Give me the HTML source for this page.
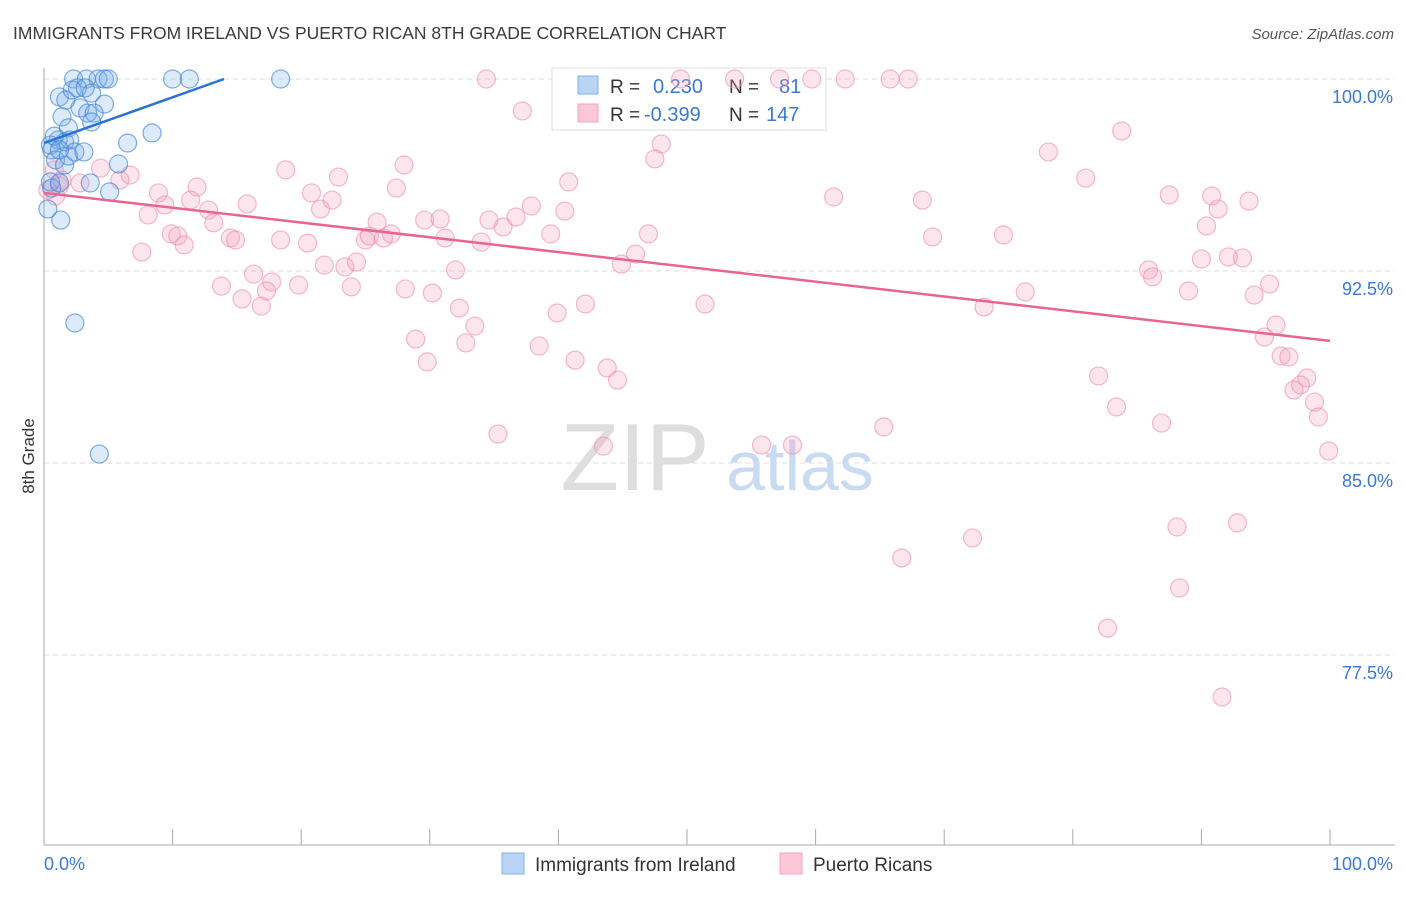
<!DOCTYPE html>
<html><head><meta charset="utf-8"><style>
body{margin:0;background:#fff;font-family:"Liberation Sans",sans-serif;}
svg text{font-family:"Liberation Sans",sans-serif;}
</style></head><body>
<svg id="chart" width="1406" height="892" viewBox="0 0 1406 892" xmlns="http://www.w3.org/2000/svg">
<text x="13" y="39" font-size="17.5" fill="#3a3a3a">IMMIGRANTS FROM IRELAND VS PUERTO RICAN 8TH GRADE CORRELATION CHART</text>
<text x="1394" y="39" font-size="15" fill="#555" font-style="italic" text-anchor="end">Source: ZipAtlas.com</text>
<text transform="translate(34,456) rotate(-90)" font-size="17" fill="#333" text-anchor="middle">8th Grade</text>
<g>
<text x="635" y="490" font-size="96" fill="#d4d4d4" font-family="Liberation Serif" text-anchor="middle" opacity="0.75">ZIP</text>
<text x="800" y="490" font-size="70" fill="#b8cfee" text-anchor="middle" opacity="0.75">atlas</text>
</g>
<g id="grid"></g>
<g id="axes"></g>
<g>
<rect x="552" y="68" width="274" height="62" fill="#fff" stroke="#ddd"/>
<rect x="578" y="76" width="20" height="18" fill="#b9d4f5" stroke="#7fb0ea"/>
<rect x="578" y="104" width="20" height="18" fill="#fbc6d6" stroke="#f3a5bf"/>
<text x="610" y="93" font-size="19" fill="#333">R =</text>
<text x="653" y="93" font-size="20" fill="#3a78d4">0.230</text>
<text x="729" y="93" font-size="19" fill="#333">N =</text>
<text x="779" y="93" font-size="20" fill="#3a78d4">81</text>
<text x="610" y="121" font-size="19" fill="#333">R =</text>
<text x="644" y="121" font-size="20" fill="#3a78d4">-0.399</text>
<text x="729" y="121" font-size="19" fill="#333">N =</text>
<text x="766" y="121" font-size="20" fill="#3a78d4">147</text>
</g>
<g id="pink"></g>
<g id="blue"></g>
<g id="lines"></g>
<g>
<rect x="502" y="853" width="22" height="21" fill="#b9d4f5" stroke="#7fb0ea"/>
<text x="535" y="871" font-size="19" fill="#333">Immigrants from Ireland</text>
<rect x="780" y="853" width="22" height="21" fill="#fbc6d6" stroke="#f3a5bf"/>
<text x="813" y="871" font-size="19" fill="#333">Puerto Ricans</text>
</g>
</svg>
<script>
const yTicks=[100,92.5,85,77.5];
const yTickLabels=["100.0%","92.5%","85.0%","77.5%"];
const xTickCount=10;
const blueX=[2.3,3.3,4.2,4.7,5.0,10.0,11.3,18.4,1.2,1.7,2.2,2.6,3.2,3.7,4.7,2.8,3.4,3.9,1.4,1.9,3.7,1.1,0.5,1.6,2.0,0.6,0.9,1.6,2.4,3.1,1.9,8.4,6.5,5.8,0.5,0.6,1.2,3.6,5.1,0.3,1.3,2.4,4.3,0.8,1.2];
const blueY=[100,100,100,100,100,100,100,100,99.3,99.18,99.57,99.65,99.65,99.45,99.02,98.87,98.67,98.67,98.52,98.09,98.32,97.62,97.42,97.54,97.62,97.23,96.84,96.64,97.15,97.15,96.99,97.89,97.5,96.68,95.98,95.74,95.94,95.94,95.59,94.92,94.49,90.47,85.35,97.77,97.23];
const pinkX=[34.4,37.2,49.5,53.7,57.2,59.7,62.3,65.8,67.2,83.8,78.1,48.0,47.5,28.0,18.8,22.9,27.4,20.8,22.4,11.9,8.9,6.7,4.4,5.9,0.8,1.4,2.8,1.2,9.4,8.1,11.4,12.8,13.2,15.8,21.5,25.9,29.6,30.8,34.6,35.7,36.7,37.9,40.5,40.8,9.9,10.4,10.9,14.5,14.9,18.4,20.5,25.0,25.3,26.4,27.0,31.2,34.0,39.4,47.0,46.0,44.9,7.6,16.3,17.7,19.8,23.9,21.8,23.4,24.3,32.0,13.8,15.4,16.9,17.3,28.1,30.2,32.3,33.5,39.9,42.1,51.4,61.4,68.3,69.1,74.6,81.0,87.5,90.8,91.3,93.7,90.4,85.9,86.2,90.0,92.1,93.2,89.0,76.3,73.1,94.1,95.3,95.8,94.9,96.2,96.8,98.2,97.7,97.2,98.8,99.1,99.9,28.9,29.8,32.8,38.5,41.3,43.8,44.6,82.0,83.4,86.9,65.3,55.8,58.2,43.5,35.3,66.7,72.2,88.1,92.8,88.3,82.7,91.6,0.9,0.3];
const pinkY=[100,98.75,100,100,100,100,100,100,100,97.97,97.15,97.46,96.88,96.64,96.45,96.17,95.74,95.55,95.27,95.78,95.55,96.25,96.52,96.05,96.45,96.05,95.94,95.82,95.08,94.69,95.27,94.88,94.38,95.12,94.92,94.41,94.49,94.53,94.49,94.22,94.61,95.04,94.84,95.98,93.95,93.87,93.52,93.79,93.71,93.71,93.59,93.71,93.87,93.79,93.95,93.79,93.63,93.95,93.95,93.16,92.77,93.24,92.38,92.07,91.95,91.88,92.73,92.66,92.85,92.54,91.91,91.41,91.13,91.72,91.8,91.64,91.05,90.35,90.86,91.21,91.21,95.39,95.27,93.83,93.91,96.13,95.47,95.43,94.92,95.23,94.26,92.54,92.27,92.97,93.05,93.01,91.72,91.68,91.09,91.56,91.99,90.39,89.92,89.18,89.14,88.32,88.05,87.85,87.38,86.8,85.47,89.84,88.95,89.69,89.57,89.02,88.71,88.24,88.4,87.19,86.56,86.41,85.7,85.7,85.66,86.13,81.29,82.07,82.5,82.66,80.12,78.55,75.86,95.43,95.66];
const blueTrend=[0,97.5,14,100];
const pinkTrend=[0,95.55,100,89.77];

const NS="http://www.w3.org/2000/svg";
const X0=44,X1=1330,Y100=79,PXPER=25.6;
function xs(v){return X0+(X1-X0)*v/100;}
function ys(v){return Y100+(100-v)*PXPER;}
function mk(tag,attrs,parent){const e=document.createElementNS(NS,tag);for(const k in attrs)e.setAttribute(k,attrs[k]);parent.appendChild(e);return e;}
const grid=document.getElementById('grid'),axes=document.getElementById('axes');
yTicks.forEach((t,i)=>{
  const l=mk('line',{x1:X0,x2:1395,y1:ys(t),y2:ys(t),stroke:'#ddd','stroke-dasharray':'5,4'},grid);
  
  
  const tx=mk('text',{x:1393,y:ys(t)+24,'font-size':18,fill:'#3a78d4','text-anchor':'end'},axes);
  tx.textContent=yTickLabels[i];
  
  
});
const ya=mk('line',{x1:X0,x2:X0,y1:68,y2:845,stroke:'#aaa'},axes);


const xa=mk('line',{x1:X0,x2:1395,y1:845,y2:845,stroke:'#aaa'},axes);


for(let k=0;k<=xTickCount;k++){
  const t=mk('line',{x1:xs(k*100/xTickCount),x2:xs(k*100/xTickCount),y1:829,y2:845,stroke:'#aaa'},axes);
  
  
}
const xl0=mk('text',{x:X0,y:870,'font-size':18,fill:'#3a78d4'},axes);xl0.textContent='0.0%';


const xl1=mk('text',{x:1393,y:870,'font-size':18,fill:'#3a78d4','text-anchor':'end'},axes);xl1.textContent='100.0%';


const pg=document.getElementById('pink'),bg=document.getElementById('blue');
pinkX.forEach((x,i)=>{
  const c=mk('circle',{cx:xs(x),cy:ys(pinkY[i]),r:9,fill:'rgba(243,160,188,0.28)',stroke:'rgba(236,140,172,0.6)','stroke-width':1.2},pg);
  
  
});
blueX.forEach((x,i)=>{
  const c=mk('circle',{cx:xs(x),cy:ys(blueY[i]),r:9,fill:'rgba(120,172,232,0.25)',stroke:'rgba(60,130,215,0.65)','stroke-width':1.2},bg);
  
  
});
const lg=document.getElementById('lines');
const bl=mk('line',{x1:xs(blueTrend[0]),y1:ys(blueTrend[1]),x2:xs(blueTrend[2]),y2:ys(blueTrend[3]),stroke:'#2a72d6','stroke-width':2.5},lg);


const pl=mk('line',{x1:xs(pinkTrend[0]),y1:ys(pinkTrend[1]),x2:xs(pinkTrend[2]),y2:ys(pinkTrend[3]),stroke:'#e8658f','stroke-width':2.5},lg);


</script>
</body></html>
